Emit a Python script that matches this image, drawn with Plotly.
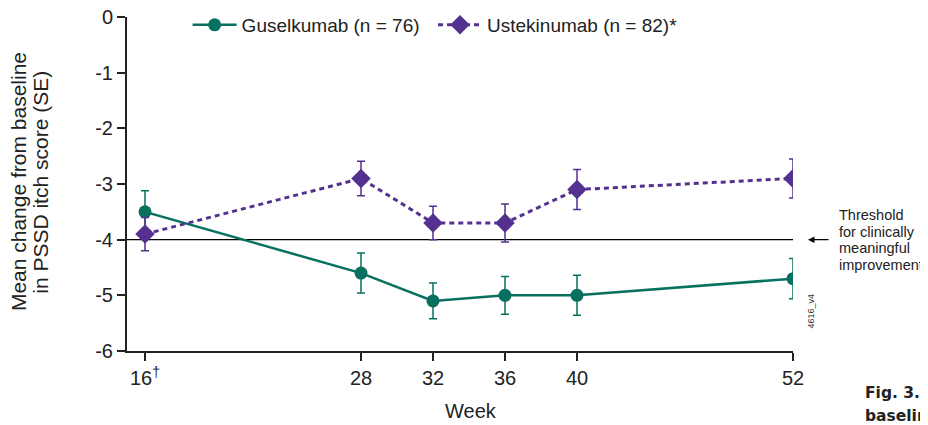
import plotly.graph_objects as go

weeks = [16, 28, 32, 36, 40, 52]
week_labels = ["16<sup>†</sup>", "28", "32", "36", "40", "52"]
gus_mean = [-3.5, -4.6, -5.1, -5.0, -5.0, -4.7]
gus_se = [0.38, 0.36, 0.32, 0.34, 0.36, 0.36]
ust_mean = [-3.9, -2.9, -3.7, -3.7, -3.1, -2.9]
ust_se = [0.30, 0.31, 0.30, 0.34, 0.36, 0.35]
threshold = -4
y_ticks = [0, -1, -2, -3, -4, -5, -6]
threshold_lines = ["Threshold", "for clinically", "meaningful", "improvement<sup>‡</sup>"]

GREEN = "#07705f"
PURPLE = "#54318f"
FONT = "Liberation Sans, Arial, sans-serif"
TXT = "#222"

fig = go.Figure()
fig.add_trace(go.Scatter(
    x=weeks, y=gus_mean, name="Guselkumab (n = 76)", mode="lines+markers",
    line=dict(color=GREEN, width=2.5),
    marker=dict(symbol="circle", size=13, color=GREEN),
    error_y=dict(type="data", array=gus_se, color=GREEN, thickness=1.5, width=4),
    legend="legend",
))
fig.add_trace(go.Scatter(
    x=weeks, y=ust_mean, name="Ustekinumab (n = 82)*", mode="lines+markers",
    line=dict(color=PURPLE, width=3, dash="5px,4px"),
    marker=dict(symbol="diamond", size=15, color=PURPLE),
    error_y=dict(type="data", array=ust_se, color=PURPLE, thickness=1.5, width=4),
    legend="legend2",
))

fig.add_shape(type="line", xref="x", yref="y", x0=15, x1=52.2, y0=threshold, y1=threshold,
              line=dict(color="black", width=1.2), layer="below")

# arrow pointing at threshold line
fig.add_annotation(xref="paper", yref="y", x=1.0225, y=threshold, ax=22, ay=0,
                   text="", showarrow=True, arrowhead=2, arrowsize=1, arrowwidth=1.3,
                   arrowcolor="black")
# threshold label, one line per annotation for tight leading
for line_txt, yp in zip(threshold_lines, [0.407, 0.356, 0.308, 0.260]):
    fig.add_annotation(xref="paper", yref="paper", x=1.066, y=yp, xanchor="left",
                       yanchor="middle", align="left", showarrow=False, text=line_txt,
                       font=dict(family=FONT, size=14.5, color=TXT))

fig.add_annotation(xref="paper", yref="paper", x=1.0375, y=0.063, textangle=-90,
                   text="4616_v4", showarrow=False, font=dict(family=FONT, size=9, color="#333"))
fig.add_annotation(xref="paper", yref="paper", x=1.105, y=-0.126, xanchor="left",
                   yanchor="middle", text="<b>Fig. 3.</b>", showarrow=False,
                   font=dict(family="DejaVu Sans, Verdana, sans-serif", size=15.5, color=TXT))
fig.add_annotation(xref="paper", yref="paper", x=1.105, y=-0.195, xanchor="left",
                   yanchor="middle", text="<b>baseline</b>", showarrow=False,
                   font=dict(family="DejaVu Sans, Verdana, sans-serif", size=15.5, color=TXT))

# axis titles
fig.add_annotation(xref="paper", yref="paper", x=-0.162, y=0.506, textangle=-90,
                   xanchor="center", yanchor="middle", showarrow=False,
                   text="Mean change from baseline", font=dict(family=FONT, size=21, color=TXT))
fig.add_annotation(xref="paper", yref="paper", x=-0.1295, y=0.506, textangle=-90,
                   xanchor="center", yanchor="middle", showarrow=False,
                   text="in PSSD itch score (SE)", font=dict(family=FONT, size=21, color=TXT))
fig.add_annotation(xref="paper", yref="paper", x=0.5165, y=-0.18,
                   xanchor="center", yanchor="middle", showarrow=False,
                   text="Week", font=dict(family=FONT, size=20, color=TXT))

legend_style = dict(orientation="h", y=0.976, xanchor="left", yanchor="middle",
                    font=dict(size=19), bgcolor="rgba(0,0,0,0)", itemwidth=44)

fig.update_layout(
    width=928, height=425,
    margin=dict(l=119, r=143, t=9, b=82, autoexpand=False),
    paper_bgcolor="white", plot_bgcolor="white",
    font=dict(family=FONT, size=20, color=TXT),
    showlegend=True,
    legend=dict(x=0.091, **legend_style),
    legend2=dict(x=0.4595, **legend_style),
    xaxis=dict(range=[15, 52], tickvals=weeks, ticktext=week_labels, automargin=False,
               showline=True, linecolor=TXT, linewidth=2, ticks="outside",
               ticklen=8, tickwidth=2, tickcolor=TXT, showgrid=False, zeroline=False,
               tickfont=dict(size=20), ticklabeloverflow="allow"),
    yaxis=dict(range=[-6, 0], tickvals=y_ticks, ticktext=[str(v) for v in y_ticks],
               automargin=False,
               showline=True, linecolor=TXT, linewidth=2, ticks="outside",
               ticklen=8, tickwidth=2, tickcolor=TXT, showgrid=False, zeroline=False,
               tickfont=dict(size=20), ticklabeloverflow="allow"),
)

fig.write_html("out.html")
